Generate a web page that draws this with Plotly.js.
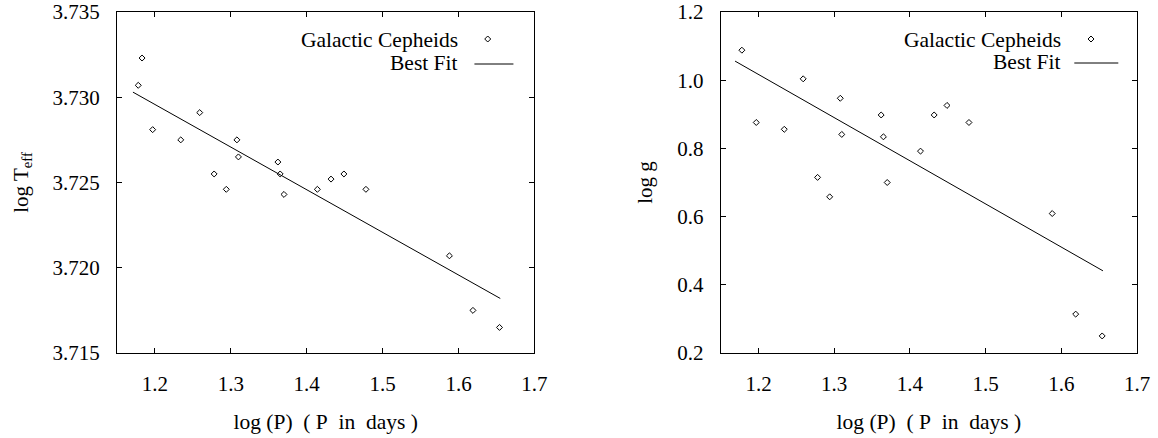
<!DOCTYPE html>
<html>
<head>
<meta charset="utf-8">
<script src="https://cdn.plot.ly/plotly-3.0.1.min.js"></script>
<style>
  html, body { margin: 0; padding: 0; background: #fff; }
  #chart { width: 1158px; height: 438px; }
</style>
</head>
<body>
<div id="chart"></div>
<script>
// Galactic Cepheids: pulsation period against effective temperature and surface gravity
const logP = [1.178, 1.183, 1.197, 1.234, 1.259, 1.278, 1.294, 1.308, 1.310, 1.362,
              1.365, 1.370, 1.414, 1.432, 1.449, 1.478, 1.588, 1.619, 1.654];
const logTeff = [3.7307, 3.7323, 3.7281, 3.7275, 3.7291, 3.7255, 3.7246, 3.7275, 3.7265, 3.7262,
                 3.7255, 3.7243, 3.7246, 3.7252, 3.7255, 3.7246, 3.7207, 3.7175, 3.7165];
const logG = [1.088, null, 0.876, 0.856, 1.004, 0.715, 0.658, 0.947, 0.841, 0.898,
              0.834, 0.700, 0.792, 0.898, 0.926, 0.876, 0.609, 0.314, 0.250];

// Linear best fits, drawn over the period range of the sample
const fitTeffX = [1.171, 1.655];
const fitTeffY = [3.7303, 3.7182];
const fitGX = [1.169, 1.655];
const fitGY = [1.056, 0.441];

const xTicks = [1.2, 1.3, 1.4, 1.5, 1.6, 1.7];
const teffTicks = [3.715, 3.720, 3.725, 3.730, 3.735];
const gTicks = [0.2, 0.4, 0.6, 0.8, 1.0, 1.2];

const seriesName = 'Galactic Cepheids';
const fitName = 'Best Fit';
const xTitle = 'log (P)\u00a0\u00a0(\u00a0P\u00a0\u00a0in\u00a0\u00a0days\u00a0)';

const W = 1158, H = 438;
const M = { l: 116.5, r: 21.3, t: 12, b: 85 };
const plotW = W - M.l - M.r, plotH = H - M.t - M.b;
const px = x => (x - M.l) / plotW;          // page pixel -> paper x
const py = y => (H - M.b - y) / plotH;      // page pixel -> paper y

const serif = 'Liberation Serif';
const textFont = { family: serif, size: 21, color: '#000' };
const legendFont = { family: serif, size: 21.5, color: '#000' };

const markerStyle = { symbol: 'diamond-open', size: 4.6, color: '#000', line: { width: 1, color: '#000' } };
const lineStyle = { color: '#000', width: 1 };

const traces = [
  { x: logP, y: logTeff, mode: 'markers', type: 'scatter', name: seriesName,
    marker: markerStyle, xaxis: 'x', yaxis: 'y', showlegend: false },
  { x: fitTeffX, y: fitTeffY, mode: 'lines', type: 'scatter', name: fitName,
    line: lineStyle, xaxis: 'x', yaxis: 'y', showlegend: false },
  { x: logP, y: logG, mode: 'markers', type: 'scatter', name: seriesName,
    marker: markerStyle, xaxis: 'x2', yaxis: 'y2', showlegend: false },
  { x: fitGX, y: fitGY, mode: 'lines', type: 'scatter', name: fitName,
    line: lineStyle, xaxis: 'x2', yaxis: 'y2', showlegend: false }
];

const axisBase = {
  showgrid: false, zeroline: false,
  showline: true, linecolor: '#000', linewidth: 1, mirror: 'ticks',
  ticks: 'inside', ticklen: 5, tickwidth: 1, tickcolor: '#000',
  tickfont: textFont,
  ticklabelstandoff: 12
};

const xAxis = (domain, anchor) => Object.assign({}, axisBase, {
  domain, anchor, range: [1.15, 1.7], tickvals: xTicks, tickformat: '.1f',
  title: { text: xTitle, font: { family: serif, size: 21.5, color: '#000' }, standoff: 18 }
});

// Legend boxes: right-aligned labels with their key to the right
function legendBlock(textRight, markX, lineX0, lineX1, yTop, yBot) {
  const ann = [
    { xref: 'paper', yref: 'paper', x: px(textRight), y: py(yTop), xanchor: 'right', yanchor: 'middle',
      text: seriesName, showarrow: false, font: legendFont },
    { xref: 'paper', yref: 'paper', x: px(textRight), y: py(yBot), xanchor: 'right', yanchor: 'middle',
      text: fitName, showarrow: false, font: legendFont }
  ];
  const shp = [
    { type: 'path', xref: 'paper', yref: 'paper', xsizemode: 'pixel', ysizemode: 'pixel',
      xanchor: px(markX), yanchor: py(yTop - 1), path: 'M0,3L3,0L0,-3L-3,0Z',
      line: { color: '#000', width: 1 } },
    { type: 'line', xref: 'paper', yref: 'paper', x0: px(lineX0), x1: px(lineX1),
      y0: py(yBot + 1), y1: py(yBot + 1), line: { color: '#000', width: 1 } }
  ];
  return { ann, shp };
}

const legL = legendBlock(459.5, 487.3, 474, 513, 40, 63);
const legR = legendBlock(1062.7, 1090.7, 1074, 1118, 40, 62);

const layout = {
  width: W, height: H,
  margin: M,
  paper_bgcolor: '#fff', plot_bgcolor: '#fff',
  font: textFont,
  showlegend: false,
  xaxis: xAxis([0, (534 - M.l) / plotW], 'y'),
  xaxis2: xAxis([(720.3 - M.l) / plotW, 1], 'y2'),
  yaxis: Object.assign({}, axisBase, {
    domain: [0, 1], anchor: 'x', range: [3.715, 3.735], tickvals: teffTicks, tickformat: '.3f',
    title: { text: 'log T<sub>eff</sub>', font: textFont, standoff: 18 }
  }),
  yaxis2: Object.assign({}, axisBase, {
    domain: [0, 1], anchor: 'x2', range: [0.2, 1.2], tickvals: gTicks, tickformat: '.1f',
    title: { text: 'log g', font: textFont, standoff: 18 }
  }),
  annotations: legL.ann.concat(legR.ann),
  shapes: legL.shp.concat(legR.shp)
};

Plotly.newPlot('chart', traces, layout, { staticPlot: true, displayModeBar: false });
</script>
</body>
</html>
